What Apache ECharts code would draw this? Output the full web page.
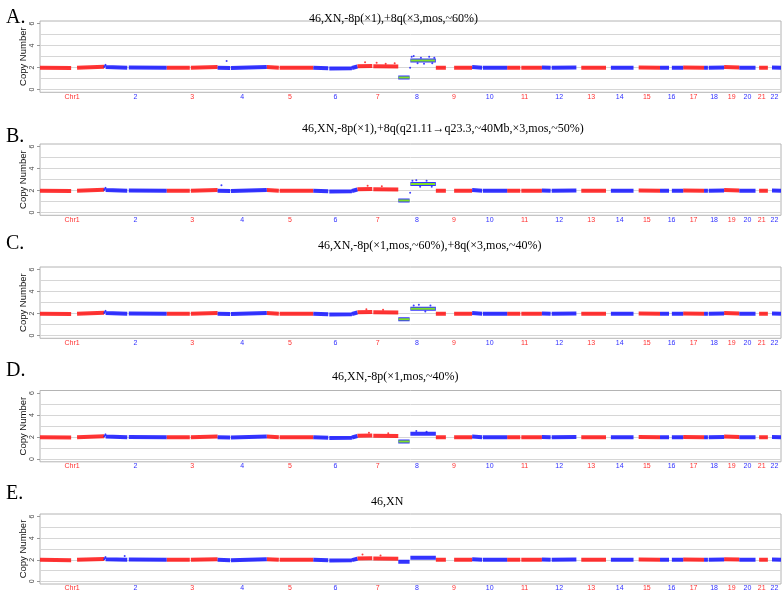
<!DOCTYPE html>
<html>
<head>
<meta charset="utf-8">
<script src="https://cdn.jsdelivr.net/npm/echarts@6/dist/echarts.min.js"></script>
<style>
  html, body { margin: 0; padding: 0; background: #fff; }
  #chart { width: 784px; height: 592px; }
</style>
</head>
<body>
<div id="chart"></div>
<script>
// chromosome names and lengths (Mb)
const chromNames = ['Chr1', '2', '3', '4', '5', '6', '7', '8', '9', '10', '11', '12', '13', '14', '15', '16', '17', '18', '19', '20', '21', '22']
const chromLen = [249, 243, 198, 191, 181, 171, 159, 146, 141, 136, 135, 134, 115, 107, 103, 90, 81, 78, 59, 63, 48, 51]

// probe bands shared by all samples: chromosome, start Mb, end Mb, copy number at start, at end
const baseSegs = [
  [1, 0, 121, 2.0, 1.97], [1, 144, 249, 2.0, 2.08],
  [2, 0, 6, 2.2, 2.12], [2, 6, 90, 2.05, 2.0], [2, 96, 243, 2.02, 2.0],
  [3, 0, 90, 2.0, 2.0], [3, 94, 198, 2.0, 2.05],
  [4, 0, 49, 2.0, 1.97], [4, 52, 191, 1.97, 2.05],
  [5, 0, 47, 2.05, 2.0], [5, 50, 181, 2.0, 2.0],
  [6, 0, 58, 2.0, 1.95], [6, 62, 150, 1.93, 1.95], [6, 150, 171, 1.97, 2.1],
  [7, 0, 58, 2.12, 2.15], [7, 62, 159, 2.12, 2.1],
  [9, 0, 39, 2.0, 2.0], [9, 71, 141, 2.0, 2.0],
  [10, 0, 39, 2.05, 2.0], [10, 42, 136, 2.0, 2.0],
  [11, 0, 51, 2.0, 2.0], [11, 55, 135, 2.0, 2.0],
  [12, 0, 34, 2.02, 2.0], [12, 38, 134, 2.0, 2.02],
  [13, 19, 115, 2.0, 2.0],
  [14, 19, 107, 2.0, 2.0],
  [15, 20, 103, 2.02, 2.0],
  [16, 0, 35, 2.0, 2.0], [16, 46, 90, 2.0, 2.0],
  [17, 0, 81, 2.02, 2.0],
  [18, 0, 15, 2.0, 2.0], [18, 18, 78, 2.0, 2.02],
  [19, 0, 59, 2.05, 2.02],
  [20, 0, 63, 2.0, 2.0],
  [21, 14, 48, 2.0, 2.0],
  [22, 16, 51, 2.02, 2.0]
]

// chromosome 8 for each sample
const chr8A = [[8, 0, 44, 1.1, 1.1], [8, 47, 146, 2.65, 2.65]]
const chr8B = [[8, 0, 44, 1.1, 1.1], [8, 47, 146, 2.6, 2.6]]
const chr8C = [[8, 0, 44, 1.5, 1.5], [8, 47, 146, 2.45, 2.45]]
const chr8D = [[8, 0, 44, 1.6, 1.6], [8, 47, 146, 2.3, 2.3]]
const chr8E = [[8, 0, 44, 1.82, 1.82], [8, 47, 146, 2.18, 2.18]]

// called segments (green): chromosome, start Mb, end Mb, copy number
const callsA = [[8, 1, 44, 1.1], [8, 48, 143, 2.65]]
const callsB = [[8, 1, 44, 1.1], [8, 48, 143, 2.6]]
const callsC = [[8, 1, 44, 1.5], [8, 48, 143, 2.45]]
const callsD = [[8, 1, 44, 1.6]]
const callsE = []

// scattered single probes: chromosome, position Mb, copy number
const extraA = [[4, 35, 2.6], [7, 30, 2.5], [7, 75, 2.45], [7, 110, 2.35], [7, 145, 2.4], [8, 46, 2.0],
  [8, 52, 3.0], [8, 60, 3.05], [8, 75, 2.4], [8, 88, 2.9], [8, 100, 2.35], [8, 120, 3.0], [8, 132, 2.4], [8, 140, 2.9]]
const extraB = [[4, 15, 2.5], [7, 40, 2.45], [7, 95, 2.4], [8, 46, 1.8], [8, 55, 2.9], [8, 70, 2.95],
  [8, 85, 2.35], [8, 110, 2.9], [8, 130, 2.35]]
const extraC = [[7, 35, 2.4], [7, 100, 2.35], [8, 60, 2.75], [8, 80, 2.8], [8, 105, 2.2], [8, 125, 2.75]]
const extraD = [[7, 45, 2.4], [7, 120, 2.35], [8, 70, 2.55], [8, 110, 2.5]]
const extraE = [[7, 20, 2.5], [7, 90, 2.4], [2, 80, 2.35]]

const titles = [
  '46,XN,-8p(\u00d71),+8q(\u00d73,mos,~60%)',
  '46,XN,-8p(\u00d71),+8q(q21.11\u2192q23.3,~40Mb,\u00d73,mos,~50%)',
  '46,XN,-8p(\u00d71,mos,~60%),+8q(\u00d73,mos,~40%)',
  '46,XN,-8p(\u00d71,mos,~40%)',
  '46,XN'
]
const letters = ['A.', 'B.', 'C.', 'D.', 'E.']
const yTicks = [0, 2, 4, 6]
const gridLevels = [0, 1, 2, 3, 4, 5]

const RED = '#ff1010'
const BLUE = '#1010ff'
const GREEN = '#7ee02a'

const offsets = []
let acc = 0
chromLen.forEach(l => { offsets.push(acc); acc += l })
const genomeLen = acc
const centers = chromLen.map((l, i) => offsets[i] + l / 2)

function chromIndexAt (val) {
  for (let i = 0; i < centers.length; i++) {
    if (Math.abs(centers[i] - val) < 0.01) return i
  }
  return 0
}

function bandData (segs, odd) {
  let out = []
  segs.forEach(s => {
    if ((s[0] % 2 === 1) !== odd) return
    const o = offsets[s[0] - 1]
    out.push([o + s[1], s[3]], [o + s[2], s[4]], ['-', '-'])
  })
  return out
}

function callData (calls) {
  let out = []
  calls.forEach(c => {
    const o = offsets[c[0] - 1]
    out.push([o + c[1], c[3]], [o + c[2], c[3]], ['-', '-'])
  })
  return out
}

const panels = [
  { segs: baseSegs.concat(chr8A), calls: callsA, extra: extraA },
  { segs: baseSegs.concat(chr8B), calls: callsB, extra: extraB },
  { segs: baseSegs.concat(chr8C), calls: callsC, extra: extraC },
  { segs: baseSegs.concat(chr8D), calls: callsD, extra: extraD },
  { segs: baseSegs.concat(chr8E), calls: callsE, extra: extraE }
]
// layout of the five panels (px)
const panelTops = [21, 144, 267, 390.5, 514]
const titleTops = [8, 118, 235, 366, 491]
const titleLefts = [304, 297, 313, 327, 366]
const letterTops = [3, 122, 229, 356, 479]
const frameH = 71.3

let option = {
  animation: false,
  title: [],
  grid: [],
  xAxis: [],
  yAxis: [],
  series: []
}

panels.forEach((p, k) => {
  option.title.push({
    text: letters[k], left: 1, top: letterTops[k],
    textStyle: { fontFamily: 'Liberation Serif', fontSize: 20, fontWeight: 'normal', color: '#000' }
  })
  option.title.push({
    text: titles[k], left: titleLefts[k], top: titleTops[k],
    textStyle: { fontFamily: 'Liberation Serif', fontSize: 12, fontWeight: 'normal', color: '#000' }
  })
  option.grid.push({
    left: 40, width: 741, top: panelTops[k], height: frameH,
    show: true, borderColor: '#b4b4b4', borderWidth: 1, backgroundColor: '#fff'
  })
  option.xAxis.push({
    type: 'value', gridIndex: k, min: 0, max: genomeLen,
    axisLine: { show: false }, axisTick: { show: false }, splitLine: { show: false },
    axisLabel: {
      customValues: centers,
      margin: 1,
      fontSize: 7,
      fontFamily: 'Liberation Sans',
      formatter: v => chromNames[chromIndexAt(v)],
      color: v => (chromIndexAt(v) % 2 === 0 ? '#ff3030' : '#3030ff')
    }
  })
  option.yAxis.push({
    type: 'value', gridIndex: k, min: -0.24, max: 6.24,
    name: 'Copy Number', nameLocation: 'middle', nameGap: 12, nameMoveOverlap: false,
    nameTextStyle: { fontFamily: 'Liberation Sans', fontSize: 9.5, color: '#111' },
    axisLine: { show: false },
    axisTick: { show: true, customValues: yTicks, length: 3, lineStyle: { color: '#999' } },
    splitLine: { show: false },
    axisLabel: {
      customValues: yTicks, rotate: 90, margin: 4, fontSize: 7,
      fontFamily: 'Liberation Sans', color: '#444'
    }
  })
  option.series.push({
    type: 'line', xAxisIndex: k, yAxisIndex: k, silent: true, symbol: 'none', z: 1,
    data: [], lineStyle: { width: 0 },
    markLine: {
      silent: true, symbol: 'none', label: { show: false }, z: 1,
      lineStyle: { color: '#d6d6d6', width: 1, type: 'solid' },
      data: gridLevels.map(v => ({ yAxis: v }))
    }
  })
  option.series.push({
    type: 'line', xAxisIndex: k, yAxisIndex: k, silent: true, symbol: 'none', z: 3,
    connectNulls: false, data: bandData(p.segs, true),
    lineStyle: { color: RED, width: 4, opacity: 0.85 }
  })
  option.series.push({
    type: 'line', xAxisIndex: k, yAxisIndex: k, silent: true, symbol: 'none', z: 3,
    connectNulls: false, data: bandData(p.segs, false),
    lineStyle: { color: BLUE, width: 4, opacity: 0.85 }
  })
  option.series.push({
    type: 'scatter', xAxisIndex: k, yAxisIndex: k, silent: true, symbolSize: 2, z: 4,
    data: p.extra.map(e => [offsets[e[0] - 1] + e[1], e[2], e[0]]),
    itemStyle: { color: params => (params.data[2] % 2 === 1 ? RED : BLUE) }
  })
  option.series.push({
    type: 'line', xAxisIndex: k, yAxisIndex: k, silent: true, symbol: 'none', z: 6,
    connectNulls: false, data: callData(p.calls),
    lineStyle: { color: GREEN, width: 2 }
  })
})

const chart = echarts.init(document.getElementById('chart'))
chart.setOption(option)
</script>
</body>
</html>
